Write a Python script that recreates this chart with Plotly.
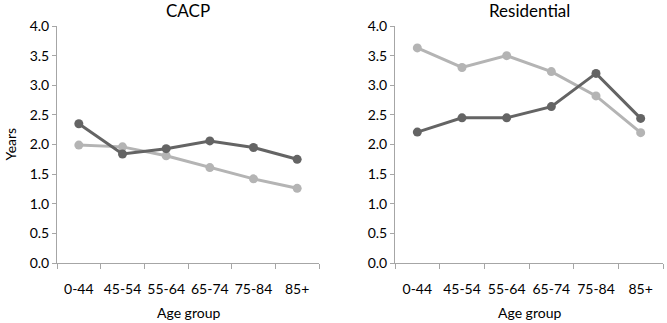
import plotly.graph_objects as go

categories = ["0-44", "45-54", "55-64", "65-74", "75-84", "85+"]
cacp_dark = [2.35, 1.84, 1.93, 2.06, 1.95, 1.75]
cacp_light = [1.99, 1.96, 1.81, 1.61, 1.42, 1.26]
res_dark = [2.21, 2.45, 2.45, 2.64, 3.20, 2.44]
res_light = [3.63, 3.30, 3.50, 3.23, 2.82, 2.20]
y_ticks = [0.0, 0.5, 1.0, 1.5, 2.0, 2.5, 3.0, 3.5, 4.0]

DARK = "#646464"
LIGHT = "#b4b4b4"
AXIS = "#a6a6a6"
FONT = "Lato"
TXT = "#000"

fig = go.Figure()

def add(y, color, xa, ya):
    fig.add_trace(go.Scatter(
        x=categories, y=y, mode="lines+markers",
        line=dict(color=color, width=3),
        marker=dict(color=color, size=9),
        xaxis=xa, yaxis=ya, showlegend=False, hoverinfo="skip"))

add(cacp_light, LIGHT, "x", "y")
add(cacp_dark, DARK, "x", "y")
add(res_light, LIGHT, "x2", "y2")
add(res_dark, DARK, "x2", "y2")

y_top = 1 - 26 / 323
y_bot = 1 - 263 / 323

xcommon = dict(type="category", showgrid=False, showline=True, linecolor=AXIS, linewidth=1,
               ticks="outside", tickson="boundaries", ticklen=5, tickcolor=AXIS,
               tickfont=dict(family=FONT, size=14, color=TXT), ticklabelstandoff=13,
               tickangle=0, automargin=False,
               range=[-0.5, 5.5], zeroline=False)
ycommon = dict(range=[0, 4.0], tickvals=y_ticks, ticktext=[f"{v:.1f}" for v in y_ticks],
               showgrid=False, showline=True, linecolor=AXIS, linewidth=1,
               ticks="outside", ticklen=4, tickcolor=AXIS, zeroline=False, automargin=False,
               tickfont=dict(family=FONT, size=14, color=TXT))

L1, R1 = 57 / 667, 319 / 667
L2, R2 = 395 / 667, 663 / 667

def ann(text, x, ypx, size, **kw):
    return dict(text=text, x=x, y=1 - ypx / 323, xref="paper", yref="paper",
                xanchor="center", yanchor="middle", showarrow=False,
                font=dict(family=FONT, size=size, color=TXT), **kw)

fig.update_layout(
    width=667, height=323,
    margin=dict(l=0, r=0, t=0, b=0, autoexpand=False),
    paper_bgcolor="white", plot_bgcolor="white",
    xaxis=dict(domain=[L1, R1], anchor="y", **xcommon),
    yaxis=dict(domain=[y_bot, y_top], anchor="x", **ycommon),
    xaxis2=dict(domain=[L2, R2], anchor="y2", **xcommon),
    yaxis2=dict(domain=[y_bot, y_top], anchor="x2", **ycommon),
    annotations=[
        ann("CACP", (L1 + R1) / 2, 11, 17),
        ann("Residential", (L2 + R2) / 2, 11, 17),
        ann("Age group", (L1 + R1) / 2, 312, 14),
        ann("Age group", (L2 + R2) / 2, 312, 14),
        ann("Years", 10 / 667, 144.5, 14, textangle=-90),
    ],
)

fig.write_html("out.html")
